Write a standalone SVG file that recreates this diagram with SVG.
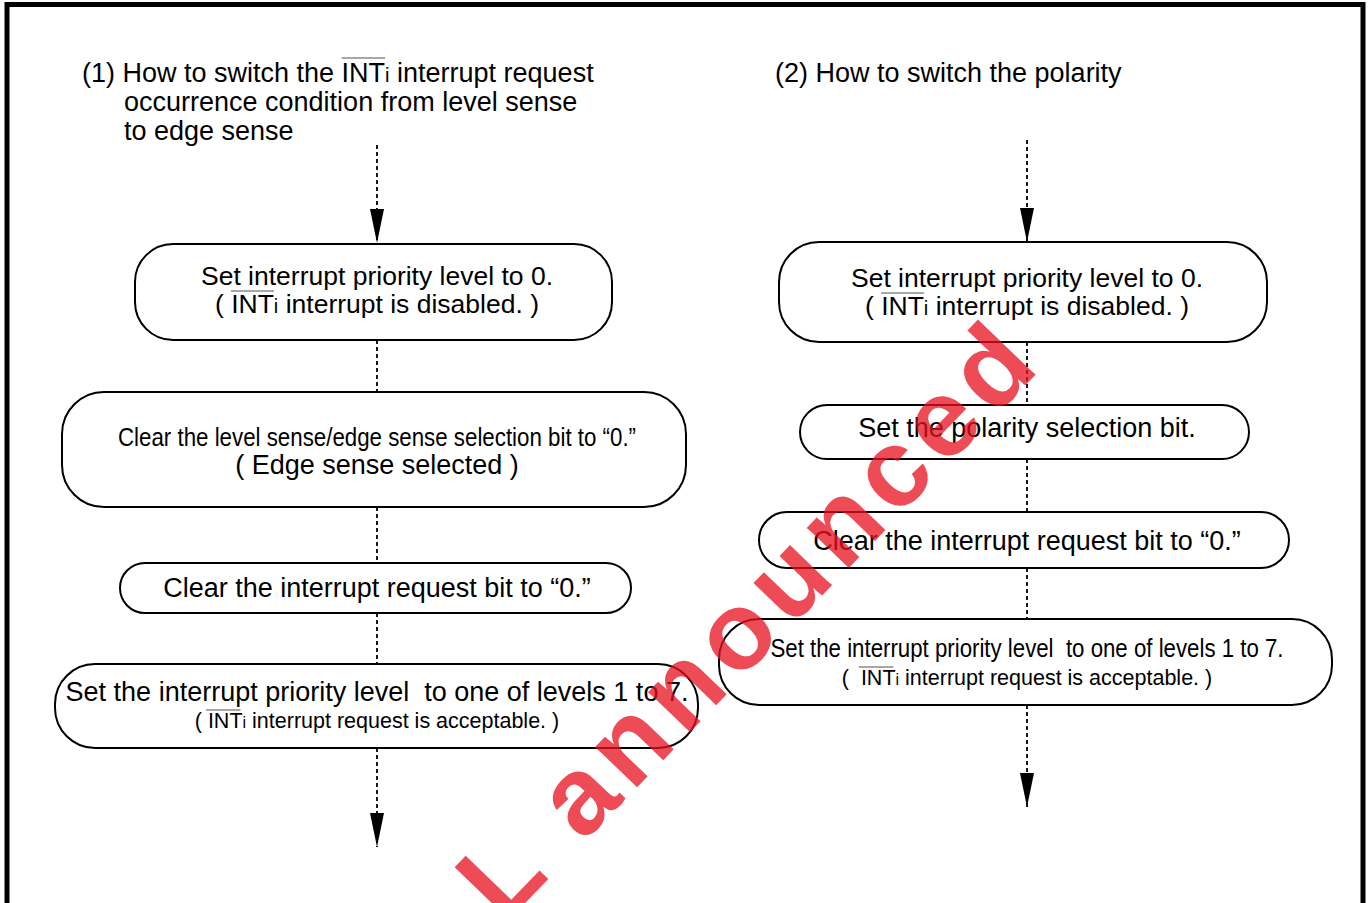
<svg xmlns="http://www.w3.org/2000/svg" width="1369" height="903" viewBox="0 0 1369 903">
<defs>
<style>
.t{font-family:"Liberation Sans",Arial,Helvetica,sans-serif;fill:#000;}
.m{text-anchor:middle;}
.pre{white-space:pre;}
.box{fill:#fff;stroke:#000;stroke-width:2;}
.conn{fill:none;stroke:#000;stroke-width:1.8;stroke-dasharray:4 3;}
.ov{stroke:#8a8a8a;stroke-width:1.4;}
.wm{font-family:"Liberation Sans",Arial,sans-serif;font-weight:bold;fill:#e8101e;opacity:0.75;}
</style>
<marker id="arr" markerUnits="userSpaceOnUse" markerWidth="34" markerHeight="14" viewBox="0 0 34 14" refX="34" refY="7" orient="auto">
<path d="M0,0 L34,7 L0,14 Z" fill="#000"/>
</marker>
</defs>
<rect x="0" y="0" width="1369" height="903" fill="#fff"/>
<rect x="7" y="4.5" width="1356" height="1000" fill="none" stroke="#000" stroke-width="5"/>

<g id="title1">
<text class="t" x="82" y="82" font-size="27">(1) How to switch the INT<tspan font-size="20">i</tspan> interrupt request</text>
<line class="ov" x1="341.6" y1="58" x2="385.1" y2="58"/>
<text class="t" x="124" y="111" font-size="27">occurrence condition from level sense</text>
<text class="t" x="124" y="140" font-size="27">to edge sense</text>
</g>
<g id="title2">
<text class="t" x="775" y="82" font-size="27">(2) How to switch the polarity</text>
</g>

<g id="connectors">
<line class="conn" x1="377" y1="145" x2="377" y2="243" marker-end="url(#arr)"/>
<line class="conn" x1="377" y1="340" x2="377" y2="392"/>
<line class="conn" x1="377" y1="507" x2="377" y2="563"/>
<line class="conn" x1="377" y1="613" x2="377" y2="664"/>
<line class="conn" x1="377" y1="748" x2="377" y2="847" marker-end="url(#arr)"/>
<line class="conn" x1="1027" y1="140" x2="1027" y2="242" marker-end="url(#arr)"/>
<line class="conn" x1="1027" y1="342" x2="1027" y2="405"/>
<line class="conn" x1="1027" y1="459" x2="1027" y2="512"/>
<line class="conn" x1="1027" y1="568" x2="1027" y2="619"/>
<line class="conn" x1="1027" y1="705" x2="1027" y2="807" marker-end="url(#arr)"/>
</g>

<g id="L1">
<rect class="box" x="135" y="244" width="477" height="96" rx="38"/>
<text class="t m" x="377" y="285" font-size="26.5">Set interrupt priority level to 0.</text>
<text class="t m" x="377" y="313" font-size="26.5">( INT<tspan font-size="20">i</tspan> interrupt is disabled. )</text>
<line class="ov" x1="231" y1="291" x2="274" y2="291"/>
</g>
<g id="L2">
<rect class="box" x="62" y="392" width="624" height="115" rx="42"/>
<text class="t m" x="377" y="446" font-size="26" textLength="518" lengthAdjust="spacingAndGlyphs">Clear the level sense/edge sense selection bit to “0.”</text>
<text class="t m" x="377" y="474" font-size="27">( Edge sense selected )</text>
</g>
<g id="L3">
<rect class="box" x="120" y="563" width="511" height="50" rx="25"/>
<text class="t m" x="377" y="597" font-size="27">Clear the interrupt request bit to “0.”</text>
</g>
<g id="L4">
<rect class="box" x="55" y="664" width="643" height="84" rx="40"/>
<text class="t m pre" x="377" y="701" font-size="27">Set the interrupt priority level  to one of levels 1 to 7.</text>
<text class="t m" x="377" y="728" font-size="21.5">( INT<tspan font-size="16">i</tspan> interrupt request is acceptable. )</text>
<line class="ov" x1="206" y1="710" x2="240.5" y2="710"/>
</g>

<g id="R1">
<rect class="box" x="779" y="242" width="488" height="100" rx="40"/>
<text class="t m" x="1027" y="287" font-size="26.5">Set interrupt priority level to 0.</text>
<text class="t m" x="1027" y="315" font-size="26.5">( INT<tspan font-size="20">i</tspan> interrupt is disabled. )</text>
<line class="ov" x1="881" y1="293" x2="924" y2="293"/>
</g>
<g id="R2">
<rect class="box" x="800" y="405" width="449" height="54" rx="27"/>
<text class="t m" x="1027" y="437" font-size="27">Set the polarity selection bit.</text>
</g>
<g id="R3">
<rect class="box" x="759" y="512" width="530" height="56" rx="28"/>
<text class="t m" x="1027" y="550" font-size="27">Clear the interrupt request bit to “0.”</text>
</g>
<g id="R4">
<rect class="box" x="719" y="619" width="613" height="86" rx="40"/>
<text class="t m pre" x="1027" y="657" font-size="26" textLength="513" lengthAdjust="spacingAndGlyphs">Set the interrupt priority level  to one of levels 1 to 7.</text>
<text class="t m pre" x="1027" y="685" font-size="21.5">(  INT<tspan font-size="16">i</tspan> interrupt request is acceptable. )</text>
<line class="ov" x1="858.7" y1="667" x2="893.3" y2="667"/>
</g>

<g id="watermark">
<text class="wm" font-size="110" letter-spacing="9" transform="translate(504,925) rotate(-46)">L announced</text>
</g>
</svg>
